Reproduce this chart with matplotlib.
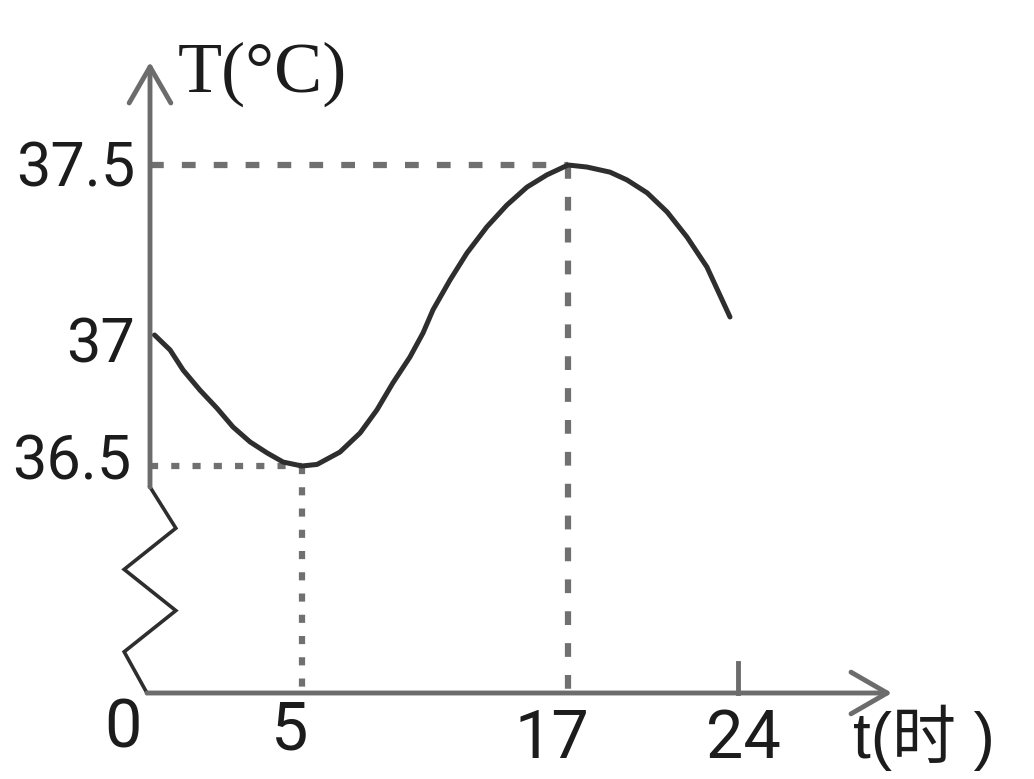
import numpy as np
import matplotlib
matplotlib.use("Agg")
import matplotlib.pyplot as plt

# body temperature over one day
hours = [0.15, 0.66, 1.09, 1.64, 2.20, 2.73, 3.29, 3.85, 4.38, 5, 5.68, 6.71,
         7.62, 8.38, 9.10, 9.87, 10.46, 10.91, 11.68, 12.44, 13.34, 14.24,
         15.15, 16.05, 17, 17.78, 18.73, 19.43, 20.26, 21.08, 21.90, 22.72,
         23.67]
temps = [37.0, 36.943, 36.866, 36.790, 36.721, 36.649, 36.592, 36.550,
         36.515, 36.5, 36.506, 36.553, 36.626, 36.714, 36.817, 36.916, 37.006,
         37.074, 37.162, 37.241, 37.318, 37.382, 37.435, 37.471, 37.5, 37.494,
         37.479, 37.456, 37.418, 37.362, 37.288, 37.200, 37.053]

key_hours = [5, 17]          # min and max
key_temps = [36.5, 37.5]

x_ticks = [0, 5, 17, 24]
x_labels = ["0", "5", "17", "24"]
y_ticks = [37.5, 37, 36.5]
y_labels = ["37.5", "37", "36.5"]

W, H = 1034, 779

# the sketch is not to scale: piecewise linear axes
xk_t = [-10, 0, 5, 17, 24, 40]
xk_px = [-154, 150, 302, 568, 738, 1127]
yk_T = [-20, 0, 36.5, 37, 37.5, 39]
yk_px = [-38.4, 86, 313, 444, 614, 1124]


def xf(v):
    return np.interp(v, xk_t, xk_px)


def xi(v):
    return np.interp(v, xk_px, xk_t)


def yf(v):
    return np.interp(v, yk_T, yk_px)


def yi(v):
    return np.interp(v, yk_px, yk_T)


fig = plt.figure(figsize=(W / 100, H / 100), dpi=100)
ax = fig.add_axes([0, 0, 1, 1])
ax.set_xscale('function', functions=(xf, xi))
ax.set_yscale('function', functions=(yf, yi))
ax.axis('off')

axis_col = '#6c6c6c'
guide_col = '#707070'
text_col = '#1c1c1c'

# guides to the max (dashed) and min (dotted)
ax.plot([0, key_hours[1]], [key_temps[1]] * 2, color=guide_col, lw=4.5,
        linestyle=(0, (2.2, 2.9)), dash_capstyle='butt')
ax.plot([key_hours[1]] * 2, [key_temps[1], 0], color=guide_col, lw=4.5,
        linestyle=(0, (2.2, 2.9)), dash_capstyle='butt')
ax.plot([0, key_hours[0]], [key_temps[0]] * 2, color=guide_col, lw=4.5,
        linestyle=(0, (1.3, 2.1)), dash_capstyle='butt')
ax.plot([key_hours[0]] * 2, [key_temps[0], 0], color=guide_col, lw=4.5,
        linestyle=(0, (1.3, 2.1)), dash_capstyle='butt')

# curve
ax.plot(hours, temps, color='#2e2e2e', lw=3.6, solid_capstyle='round',
        solid_joinstyle='round', zorder=5)

# axes with open arrow heads
head = '->,head_length=1.3,head_width=0.75'
brk = yi(H - 487)
ax.annotate('', xy=(0, yi(H - 62)), xytext=(0, brk),
            arrowprops=dict(arrowstyle=head, lw=3.5, color=axis_col,
                            mutation_scale=20, shrinkA=0, shrinkB=0))
x_end = xi(892)
ax.annotate('', xy=(x_end, 0), xytext=(xi(147), 0),
            arrowprops=dict(arrowstyle=head, lw=3.5, color=axis_col,
                            mutation_scale=20, shrinkA=0, shrinkB=0))

# axis break zigzag
a = 0.85
zz_y = np.linspace(brk, 0, 6)
zz_x = [0, a, -a, a, -a, -0.1]
ax.plot(zz_x, zz_y, color='#2e2e2e', lw=2.6, solid_joinstyle='miter')

# tick at 24
ax.plot([24, 24], [0, yi(H - 663)], color=axis_col, lw=3.5)

num_font = 'Roboto'
x_off = [(-27, -55), (-12, -57), (-16, -65), (5, -65)]
for v, lab, off in zip(x_ticks, x_labels, x_off):
    ax.annotate(lab, xy=(v, 0), xytext=off, textcoords='offset pixels',
                ha='center', va='baseline', fontsize=48, family=num_font,
                color=text_col)

y_off = [(-15, -22), (-15, -28), (-19, -14)]
for v, lab, off in zip(y_ticks, y_labels, y_off):
    ax.annotate(lab, xy=(0, v), xytext=off, textcoords='offset pixels',
                ha='right', va='baseline', fontsize=44, family=num_font,
                color=text_col)

ax.annotate('T(°C)', xy=(0, yi(H - 62)), xytext=(28, -30),
            textcoords='offset pixels', ha='left', va='baseline',
            fontsize=52, family='Liberation Serif', color=text_col)
ax.annotate('t(时 )', xy=(x_end, 0), xytext=(-39, -65),
            textcoords='offset pixels', ha='left', va='baseline',
            fontsize=46, family=['Liberation Sans', 'Noto Sans CJK SC'],
            color=text_col)

ax.set_xlim(xi(0), xi(W))
ax.set_ylim(yi(0), yi(H))

fig.savefig('out.png', dpi=100, facecolor='white')
